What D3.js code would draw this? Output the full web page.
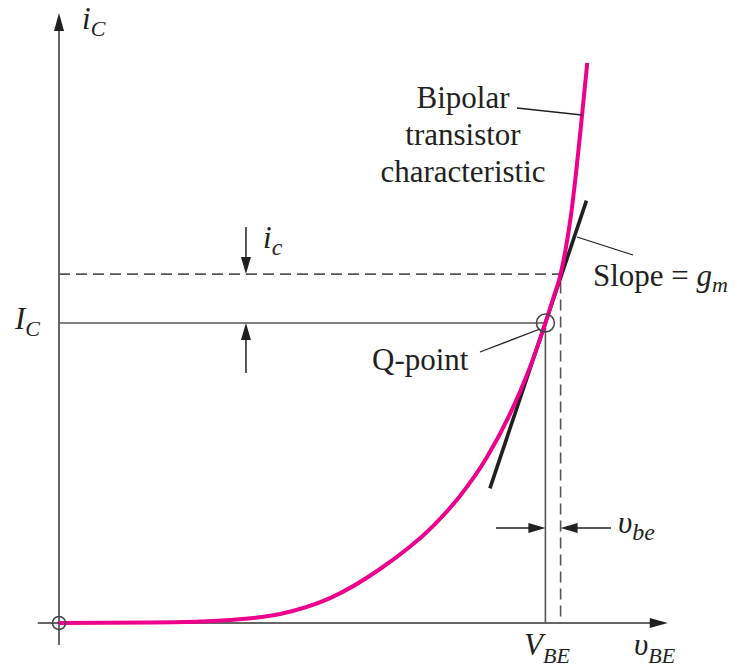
<!DOCTYPE html>
<html><head><meta charset="utf-8">
<script src="https://cdn.jsdelivr.net/npm/d3@7"></script>
<style>
html,body{margin:0;padding:0;background:#fff;}
svg{display:block;}
text{font-family:"Liberation Serif","Times New Roman",serif;fill:#231f20;}
</style></head><body>
<svg id="chart" width="738" height="670"></svg>
<script>
// Collector current iC (mA) against base-emitter voltage vBE (V)
const vBE = [0, 0.1197, 0.1855, 0.225, 0.2908, 0.3566, 0.4224, 0.4921, 0.5276, 0.5632, 0.5934, 0.6197, 0.640, 0.650, 0.660, 0.6671, 0.6737, 0.6803, 0.6868, 0.6951];
const iC  = [0, 0.0017, 0.005, 0.010, 0.030, 0.083, 0.180, 0.323, 0.423, 0.553, 0.697, 0.853, 1.000, 1.080, 1.163, 1.253, 1.360, 1.500, 1.657, 1.867];

// Bias point and small-signal excursion
const VBE_Q = 0.64, IC_Q = 1.0;
const vbe = 0.02, ic = 0.163;
const gm = 7.55;                    // mA/V, slope of the tangent at the Q-point
const tangentV = [0.567, 0.694];    // span of the drawn tangent
const axisV = [-0.028, 0.801];      // extent of the horizontal axis
const axisI = [-0.073, 2.033];      // extent of the vertical axis

const svg = d3.select("#chart");
const x = d3.scaleLinear().domain([0, 0.8]).range([59, 667]);
const y = d3.scaleLinear().domain([0, 2]).range([623, 23]);

const ink = "#231f20", guide = "#555", axisInk = "#333", magenta = "#ec008c";

function arrowHead(tipX, tipY, dir, len = 17, half = 5) {
  // dir: unit vector pointing toward the tip
  const [dx, dy] = dir, bx = tipX - dx * len, by = tipY - dy * len;
  const px = -dy, py = dx;
  svg.append("path")
    .attr("d", `M${tipX},${tipY}L${bx + px * half},${by + py * half}L${bx - px * half},${by - py * half}Z`)
    .attr("fill", ink);
}

// Axes
svg.append("line").attr("x1", x(axisV[0])).attr("x2", x(axisV[1]) - 10)
  .attr("y1", y(0)).attr("y2", y(0)).attr("stroke", axisInk).attr("stroke-width", 1.5);
svg.append("line").attr("x1", x(0)).attr("x2", x(0))
  .attr("y1", y(axisI[0])).attr("y2", y(axisI[1]) + 10).attr("stroke", axisInk).attr("stroke-width", 1.5);
arrowHead(x(axisV[1]), y(0), [1, 0], 18, 5);
arrowHead(x(0), y(axisI[1]), [0, -1], 18, 5);

// Quiescent guides (solid) and peak excursion guides (dashed)
svg.append("path")
  .attr("d", `M${x(0)},${y(IC_Q)}H${x(VBE_Q)}V${y(0)}`)
  .attr("fill", "none").attr("stroke", guide).attr("stroke-width", 1.6);
svg.append("path")
  .attr("d", `M${x(0)},${y(IC_Q + ic)}H${x(VBE_Q + vbe)}V${y(0)}`)
  .attr("fill", "none").attr("stroke", guide).attr("stroke-width", 1.6)
  .attr("stroke-dasharray", "11,6");

// Tangent at the Q-point
svg.append("line")
  .attr("x1", x(tangentV[0])).attr("y1", y(IC_Q + gm * (tangentV[0] - VBE_Q)))
  .attr("x2", x(tangentV[1])).attr("y2", y(IC_Q + gm * (tangentV[1] - VBE_Q)))
  .attr("stroke", ink).attr("stroke-width", 3.6);

// Transistor characteristic
const line = d3.line().x((d, k) => x(vBE[k])).y((d, k) => y(iC[k])).curve(d3.curveMonotoneX);
svg.append("path").datum(vBE).attr("d", line)
  .attr("fill", "none").attr("stroke", magenta).attr("stroke-width", 4).attr("stroke-linecap", "butt");

// Origin and Q-point markers
svg.append("circle").attr("cx", x(0)).attr("cy", y(0)).attr("r", 6.5)
  .attr("fill", "none").attr("stroke", "#444").attr("stroke-width", 1.5);
svg.append("circle").attr("cx", x(VBE_Q)).attr("cy", y(IC_Q)).attr("r", 9)
  .attr("fill", "none").attr("stroke", "#444").attr("stroke-width", 1.5);

// Leader lines
const leaders = [[517, 108, 582, 115], [577, 237, 633, 255], [480, 352, 540, 329]];
leaders.forEach(([a, b, c, d]) => svg.append("line")
  .attr("x1", a).attr("y1", b).attr("x2", c).attr("y2", d)
  .attr("stroke", ink).attr("stroke-width", 1.3));

// Dimension arrows for ic
const icX = x(0.246);
svg.append("line").attr("x1", icX).attr("x2", icX).attr("y1", 227).attr("y2", y(IC_Q + ic) - 14)
  .attr("stroke", ink).attr("stroke-width", 1.5);
arrowHead(icX, y(IC_Q + ic), [0, 1]);
svg.append("line").attr("x1", icX).attr("x2", icX).attr("y1", y(IC_Q) + 14).attr("y2", 373)
  .attr("stroke", ink).attr("stroke-width", 1.5);
arrowHead(icX, y(IC_Q), [0, -1]);

// Dimension arrows for vbe
const vbeY = 528;
svg.append("line").attr("x1", 496).attr("x2", x(VBE_Q) - 14).attr("y1", vbeY).attr("y2", vbeY)
  .attr("stroke", ink).attr("stroke-width", 1.5);
arrowHead(x(VBE_Q), vbeY, [1, 0]);
svg.append("line").attr("x1", x(VBE_Q + vbe) + 14).attr("x2", 611).attr("y1", vbeY).attr("y2", vbeY)
  .attr("stroke", ink).attr("stroke-width", 1.5);
arrowHead(x(VBE_Q + vbe), vbeY, [-1, 0]);

// Labels
function symbol(px, py, main, sub, size = 31, subSize = 22, drop = 7) {
  const t = svg.append("text").attr("x", px).attr("y", py).attr("font-size", size);
  t.append("tspan").attr("font-style", "italic").text(main);
  t.append("tspan").attr("font-style", "italic")
    .attr("font-size", subSize).attr("dy", drop).text(sub);
  return t;
}
symbol(82, 29, "i", "C");
symbol(15, 329, "I", "C");
symbol(263, 248, "i", "c", 31, 24, 7);
symbol(618, 533, "υ", "be", 31, 24, 7);
symbol(524, 655, "V", "BE", 31, 22, 8);
symbol(634, 655, "υ", "BE", 31, 22, 8);

["Bipolar", "transistor", "characteristic"].forEach((s, k) =>
  svg.append("text").attr("x", 463).attr("y", 108 + k * 37).attr("text-anchor", "middle")
    .attr("font-size", 31).text(s));

svg.append("text").attr("x", 372).attr("y", 370).attr("font-size", 31).text("Q-point");

const sl = svg.append("text").attr("x", 593).attr("y", 286).attr("font-size", 31);
sl.append("tspan").text("Slope = ");
sl.append("tspan").attr("font-style", "italic").text("g");
sl.append("tspan").attr("font-style", "italic").attr("font-size", 22).attr("dy", 6).text("m");
</script>
</body></html>
